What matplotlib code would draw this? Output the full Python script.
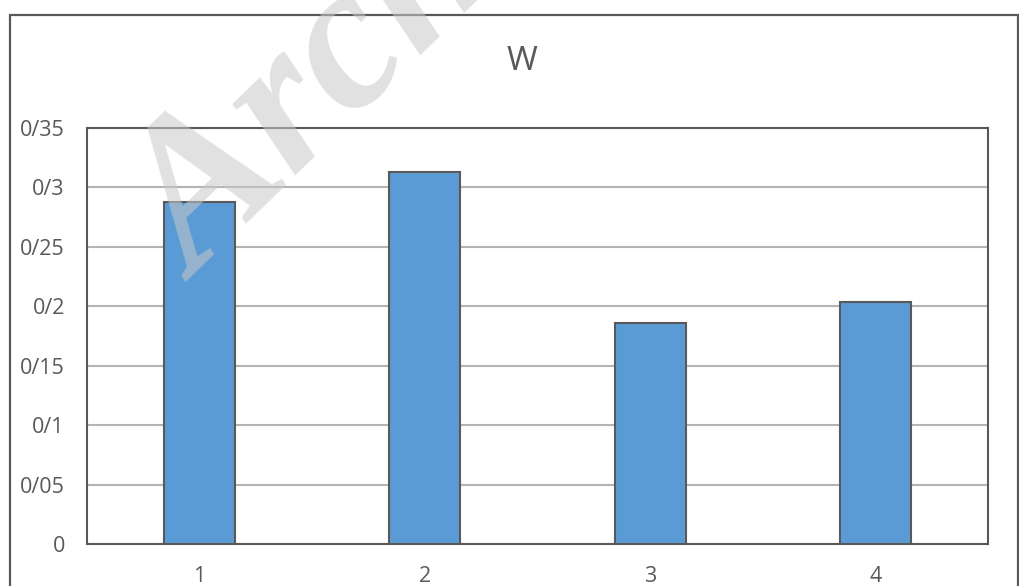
import matplotlib
matplotlib.use("Agg")
import matplotlib.pyplot as plt
from matplotlib.patches import Rectangle

# Data
categories = ["1", "2", "3", "4"]
values = [0.2875, 0.313, 0.186, 0.204]
y_ticks = [0, 0.05, 0.10, 0.15, 0.20, 0.25, 0.30, 0.35]
y_tick_labels = ["0", "0/05", "0/1", "0/15", "0/2", "0/25", "0/3", "0/35"]
title = "W"

TEXT = "#595959"
EDGE = "#595959"
BAR = "#5B9BD5"
GRID = "#B4B4B4"

plt.rcParams["font.family"] = ["Open Sans", "DejaVu Sans"]

fig = plt.figure(figsize=(10.2, 5.86), dpi=100)
fig.patch.set_facecolor("white")

# Outer chart frame
frame = Rectangle((10 / 1020, -0.02), (1018 - 10) / 1020, 1 - 15 / 586 + 0.02,
                  transform=fig.transFigure, fill=False, edgecolor=EDGE,
                  linewidth=1.6, clip_on=False, zorder=0)
fig.patches.append(frame)

ax = fig.add_axes([87 / 1020, 1 - 544 / 586, (988 - 87) / 1020, (544 - 128) / 586])

x = list(range(1, len(categories) + 1))
ax.bar(x, values, width=0.316, color=BAR, edgecolor=EDGE, linewidth=1.5, zorder=3)

ax.set_xlim(0.5, len(categories) + 0.5)
ax.set_ylim(0, 0.35)
ax.set_xticks(x)
ax.set_xticklabels(categories)
ax.set_yticks(y_ticks)
ax.set_yticklabels(y_tick_labels)

ax.yaxis.grid(True, color=GRID, linewidth=1.5, zorder=0)
ax.set_axisbelow(True)

for s in ax.spines.values():
    s.set_color(EDGE)
    s.set_linewidth(1.5)

ax.tick_params(axis="both", length=0, labelsize=15.5, colors=TEXT)
ax.tick_params(axis="y", pad=16)
ax.tick_params(axis="x", pad=16)

fig.text(522 / 1020, 1 - 61 / 586, title, ha="center", va="center",
         fontsize=24, color=TEXT)

# Watermark
fig.text(196 / 1020, 1 - 282 / 586, "Archive", rotation=44, rotation_mode="anchor",
         ha="left", va="baseline", fontsize=150, family="Liberation Serif",
         fontweight="bold", fontstyle="italic", color="#C8C8C8", alpha=0.55,
         zorder=10)

fig.savefig("out.png", dpi=100, facecolor="white")
